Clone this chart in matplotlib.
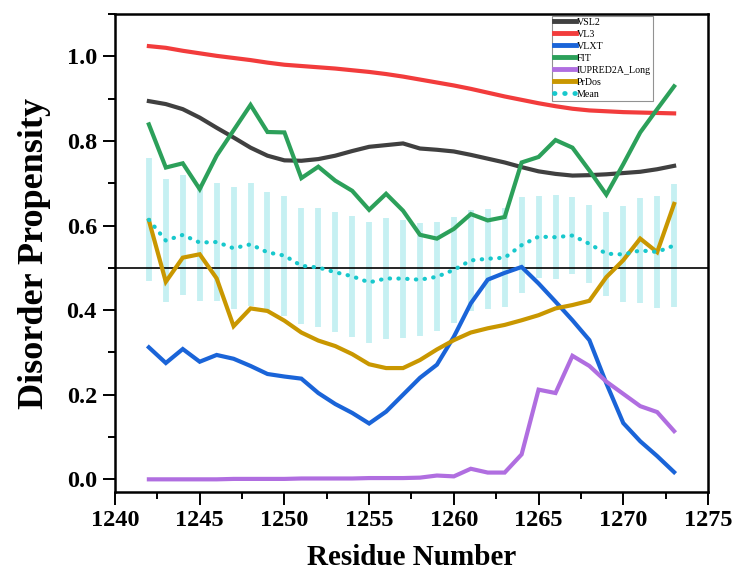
import numpy as np
import matplotlib
matplotlib.use('Agg')
import matplotlib.pyplot as plt
from matplotlib.ticker import MultipleLocator

plt.rcParams['font.family'] = ['Liberation Serif', 'DejaVu Serif']

# Residue positions and per-predictor disorder scores
residues = np.arange(1242, 1274)

vsl2 = [0.894, 0.887, 0.875, 0.855, 0.831, 0.808, 0.784, 0.765, 0.754, 0.753,
        0.757, 0.765, 0.776, 0.786, 0.790, 0.794, 0.782, 0.779, 0.775, 0.767,
        0.758, 0.749, 0.738, 0.728, 0.722, 0.718, 0.719, 0.721, 0.724, 0.727,
        0.733, 0.741]
vl3 = [1.024, 1.020, 1.013, 1.007, 1.001, 0.996, 0.991, 0.985, 0.980, 0.977,
       0.974, 0.971, 0.967, 0.963, 0.958, 0.952, 0.945, 0.938, 0.931, 0.923,
       0.914, 0.905, 0.897, 0.889, 0.882, 0.876, 0.872, 0.870, 0.868, 0.867,
       0.866, 0.865]
vlxt = [0.312, 0.275, 0.308, 0.278, 0.294, 0.285, 0.268, 0.249, 0.243, 0.238,
        0.204, 0.178, 0.157, 0.132, 0.160, 0.200, 0.240, 0.271, 0.337, 0.416,
        0.472, 0.488, 0.502, 0.463, 0.420, 0.376, 0.329, 0.227, 0.133, 0.090,
        0.055, 0.017]
fit = [0.839, 0.737, 0.747, 0.686, 0.765, 0.825, 0.885, 0.821, 0.820, 0.712,
       0.739, 0.706, 0.682, 0.637, 0.675, 0.635, 0.578, 0.569, 0.592, 0.627,
       0.612, 0.620, 0.749, 0.762, 0.802, 0.784, 0.730, 0.673, 0.745, 0.820,
       0.875, 0.929]
iupred = [0.000, 0.000, 0.000, 0.000, 0.000, 0.001, 0.001, 0.001, 0.001, 0.002,
          0.002, 0.002, 0.002, 0.003, 0.003, 0.003, 0.004, 0.009, 0.007, 0.025,
          0.016, 0.016, 0.059, 0.212, 0.204, 0.292, 0.268, 0.231, 0.202, 0.173,
          0.159, 0.114]
prdos = [0.612, 0.467, 0.524, 0.532, 0.475, 0.362, 0.404, 0.398, 0.375, 0.347,
         0.328, 0.315, 0.296, 0.272, 0.263, 0.263, 0.282, 0.307, 0.329, 0.347,
         0.357, 0.365, 0.376, 0.388, 0.404, 0.412, 0.422, 0.478, 0.518, 0.569,
         0.537, 0.651]

series = [
    ('VSL2', vsl2, '#404040'),
    ('VL3', vl3, '#f23c3c'),
    ('VLXT', vlxt, '#1a64d8'),
    ('FIT', fit, '#2ca05a'),
    ('IUPRED2A_Long', iupred, '#b06ee0'),
    ('PrDos', prdos, '#c99700'),
]

# Consensus: mean of all predictors with standard error
scores = np.array([s[1] for s in series])
mean = scores.mean(axis=0)
sem = scores.std(axis=0) / np.sqrt(scores.shape[0])

fig = plt.figure(figsize=(7.32, 5.75), dpi=100)
ax = fig.add_axes([0.1571, 0.1443, 0.8101, 0.8314])

# Error bars behind everything
ax.vlines(residues, mean - sem, mean + sem, color='#c6f0f2', linewidth=4.2,
          zorder=1)

ax.axhline(0.5, color='black', linewidth=1.2, zorder=2)

for name, vals, color in series:
    ax.plot(residues, vals, color=color, linewidth=3, label=name,
            solid_joinstyle='miter', zorder=3)

ax.plot(residues, mean, color='#18c8cc', linewidth=3,
        linestyle=(0, (0.1, 2)), dash_capstyle='round', label='Mean', zorder=4)

ax.set_xlim(1240, 1275)
ax.set_ylim(-0.03, 1.1)
ax.xaxis.set_major_locator(MultipleLocator(5))
ax.xaxis.set_minor_locator(MultipleLocator(2.5))
ax.yaxis.set_major_locator(MultipleLocator(0.2))
ax.yaxis.set_minor_locator(MultipleLocator(0.1))
ax.yaxis.set_major_formatter(plt.FormatStrFormatter('%.1f'))

ax.tick_params(which='major', direction='out', length=9, width=1.4,
               labelsize=17.5, pad=4)
ax.tick_params(which='minor', direction='out', length=5, width=1.4)
for lbl in ax.get_xticklabels() + ax.get_yticklabels():
    lbl.set_fontweight('bold')
for sp in ax.spines.values():
    sp.set_linewidth(1.8)

ax.set_xlabel('Residue Number', fontsize=21, fontweight='bold', labelpad=9)
ax.set_ylabel('Disorder Propensity', fontsize=26, fontweight='bold', labelpad=11)

leg = ax.legend(loc='upper right', bbox_to_anchor=(0.907, 0.996),
                fontsize=7.2, frameon=True, fancybox=False, borderpad=0.2,
                labelspacing=0.3, handlelength=2.2, handletextpad=0.1,
                borderaxespad=0)
leg.get_frame().set_edgecolor('#777777')
leg.get_frame().set_linewidth(0.8)
for line in leg.get_lines():
    line.set_linewidth(3.5)

fig.savefig('out.png', dpi=100)
